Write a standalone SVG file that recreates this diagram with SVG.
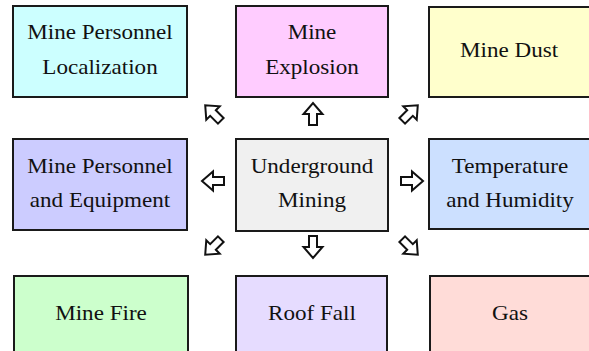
<svg xmlns="http://www.w3.org/2000/svg" xmlns:xlink="http://www.w3.org/1999/xlink" width="589" height="351" viewBox="0 0 589 351">
<style>
.box{stroke:#1a1a1a;stroke-width:2}
.t{font-family:"Liberation Serif","Times New Roman",serif;font-size:22px;fill:#111;text-anchor:middle}
.arr{fill:#fff;stroke:#111;stroke-width:2;stroke-linejoin:miter}
</style>
<defs>
<path id="arrow" class="arr" d="M-11,-4 H0 V-9.5 L11,0 L0,9.5 V4 H-11 Z"/>
</defs>
<rect width="589" height="351" fill="#fff"/>
<g id="n-localization">
<rect class="box" x="13" y="6" width="174" height="91" fill="#ccffff"/>
<text class="t" transform="translate(100 39) scale(1.05 1)">Mine Personnel</text>
<text class="t" transform="translate(100 74) scale(1.05 1)">Localization</text>
</g>
<g id="n-explosion">
<rect class="box" x="236" y="6" width="152" height="91" fill="#ffccff"/>
<text class="t" transform="translate(312 39) scale(1.05 1)">Mine</text>
<text class="t" transform="translate(312 74) scale(1.05 1)">Explosion</text>
</g>
<g id="n-dust">
<rect class="box" x="429" y="7" width="165" height="90" fill="#ffffcc"/>
<text class="t" transform="translate(509 57) scale(1.05 1)">Mine Dust</text>
</g>
<g id="n-equipment">
<rect class="box" x="13" y="139" width="174" height="91" fill="#ccccff"/>
<text class="t" transform="translate(100 173) scale(1.05 1)">Mine Personnel</text>
<text class="t" transform="translate(100 207) scale(1.05 1)">and Equipment</text>
</g>
<g id="n-mining">
<rect class="box" x="236" y="139" width="152" height="92" fill="#f0f0f0"/>
<text class="t" transform="translate(312 173) scale(1.05 1)">Underground</text>
<text class="t" transform="translate(312 207) scale(1.05 1)">Mining</text>
</g>
<g id="n-temperature">
<rect class="box" x="429" y="139" width="165" height="90" fill="#cce0ff"/>
<text class="t" transform="translate(510 173) scale(1.05 1)">Temperature</text>
<text class="t" transform="translate(510 207) scale(1.05 1)">and Humidity</text>
</g>
<g id="n-fire">
<rect class="box" x="14" y="276" width="174" height="91" fill="#ccffcc"/>
<text class="t" transform="translate(101 320) scale(1.05 1)">Mine Fire</text>
</g>
<g id="n-rooffall">
<rect class="box" x="236" y="276" width="151" height="91" fill="#e6dcff"/>
<text class="t" transform="translate(312 320) scale(1.05 1)">Roof Fall</text>
</g>
<g id="n-gas">
<rect class="box" x="430" y="276" width="165" height="91" fill="#ffdcd8"/>
<text class="t" transform="translate(510 320) scale(1.05 1)">Gas</text>
</g>
<g id="connectors">
<use xlink:href="#arrow" transform="translate(313 114) rotate(-90)"/>
<use xlink:href="#arrow" transform="translate(213 113) rotate(-135)"/>
<use xlink:href="#arrow" transform="translate(410 113) rotate(-45)"/>
<use xlink:href="#arrow" transform="translate(213 181) rotate(180)"/>
<use xlink:href="#arrow" transform="translate(412 181)"/>
<use xlink:href="#arrow" transform="translate(313 247) rotate(90)"/>
<use xlink:href="#arrow" transform="translate(213 247) rotate(135)"/>
<use xlink:href="#arrow" transform="translate(410 247) rotate(45)"/>
</g>
</svg>
